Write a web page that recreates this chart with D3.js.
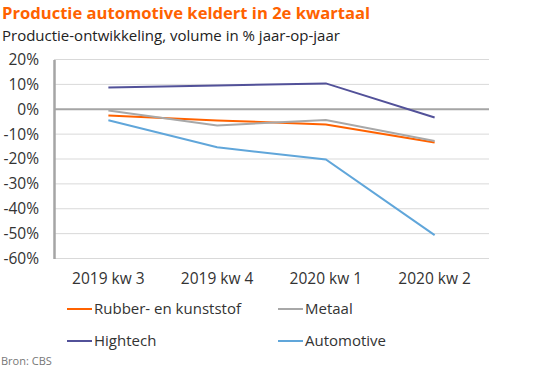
<!DOCTYPE html>
<html>
<head>
<meta charset="UTF-8">
<title>Productie automotive</title>
<script src="https://d3js.org/d3.v7.min.js"></script>
<style>
  body { margin: 0; background: #fff; }
  svg text { font-family: "Open Sans", sans-serif; }
</style>
</head>
<body>
<div id="chart"></div>
<script>
// data
var quarters = ["2019 kw 3", "2019 kw 4", "2020 kw 1", "2020 kw 2"];
var seriesNames = ["Rubber- en kunststof", "Metaal", "Hightech", "Automotive"];
var rubber = [-2.5, -4.5, -6.1, -13.4];
var metaal = [-0.5, -6.5, -4.3, -12.8];
var hightech = [8.7, 9.5, 10.4, -3.3];
var automotive = [-4.4, -15.3, -20.2, -50.6];
var yTicks = [20, 10, 0, -10, -20, -30, -40, -50, -60];

var colors = ["#ff6200", "#a8a8a8", "#525199", "#60a6da"];
var allSeries = [rubber, metaal, hightech, automotive];

var W = 555, H = 374;
var margin = {top: 60, left: 54, right: 66, bottom: 116};

var svg = d3.select("#chart").append("svg")
  .attr("width", W)
  .attr("height", H);

svg.append("text")
  .attr("x", 2).attr("y", 19)
  .attr("font-size", 16.6).attr("font-weight", "bold")
  .attr("fill", "#ff6200")
  .text("Productie automotive keldert in 2e kwartaal");

svg.append("text")
  .attr("x", 2).attr("y", 41)
  .attr("font-size", 15).attr("fill", "#222")
  .text("Productie-ontwikkeling, volume in % jaar-op-jaar");

var x = d3.scaleBand()
  .domain(quarters)
  .range([margin.left, W - margin.right]);

var y = d3.scaleLinear()
  .domain([-60, 20])
  .range([258.5, 59.5]);

// gridlines
svg.append("g").selectAll("line")
  .data(yTicks)
  .join("line")
  .attr("x1", margin.left).attr("x2", W - margin.right)
  .attr("y1", d => y(d)).attr("y2", d => y(d))
  .attr("stroke", d => d === 0 ? "#a5a5a5" : "#d9d9d9")
  .attr("stroke-width", d => d === 0 ? 2 : 1);

// y axis
var yAxis = d3.axisLeft(y).tickValues(yTicks).tickSize(0).tickPadding(15)
  .tickFormat(d => d + "%");
var gy = svg.append("g")
  .attr("transform", "translate(" + margin.left + ",0)")
  .call(yAxis);
gy.select(".domain").attr("stroke", "#a5a5a5").attr("stroke-width", 2.5);
gy.selectAll("text").attr("font-size", 15.5).attr("fill", "#333")
  .style("font-family", "'Open Sans', sans-serif");

// x axis labels
var xAxis = d3.axisBottom(x).tickSize(0).tickPadding(14);
var gx = svg.append("g")
  .attr("transform", "translate(0,258.5)")
  .call(xAxis);
gx.select(".domain").remove();
gx.selectAll("text").attr("font-size", 15.5).attr("fill", "#333")
  .style("font-family", "'Open Sans', sans-serif");

// lines
var line = d3.line()
  .x((d, i) => x(quarters[i]) + x.bandwidth() / 2)
  .y(d => y(d));

svg.append("g").selectAll("path")
  .data(allSeries)
  .join("path")
  .attr("d", d => line(d))
  .attr("fill", "none")
  .attr("stroke", (d, i) => colors[i])
  .attr("stroke-width", 2);

// legend
var legendPos = [[67, 309], [278, 309], [67, 341], [278, 341]];
var lg = svg.append("g").selectAll("g")
  .data(seriesNames)
  .join("g")
  .attr("transform", (d, i) => "translate(" + legendPos[i][0] + "," + legendPos[i][1] + ")");
lg.append("line")
  .attr("x1", 0).attr("x2", 25)
  .attr("stroke", (d, i) => colors[i]).attr("stroke-width", 2);
lg.append("text")
  .attr("x", 27).attr("dy", "0.35em")
  .attr("font-size", 15).attr("fill", "#333")
  .text(d => d);

svg.append("text")
  .attr("x", 1).attr("y", 365)
  .attr("font-size", 11).attr("fill", "#777")
  .text("Bron: CBS");
</script>
</body>
</html>
